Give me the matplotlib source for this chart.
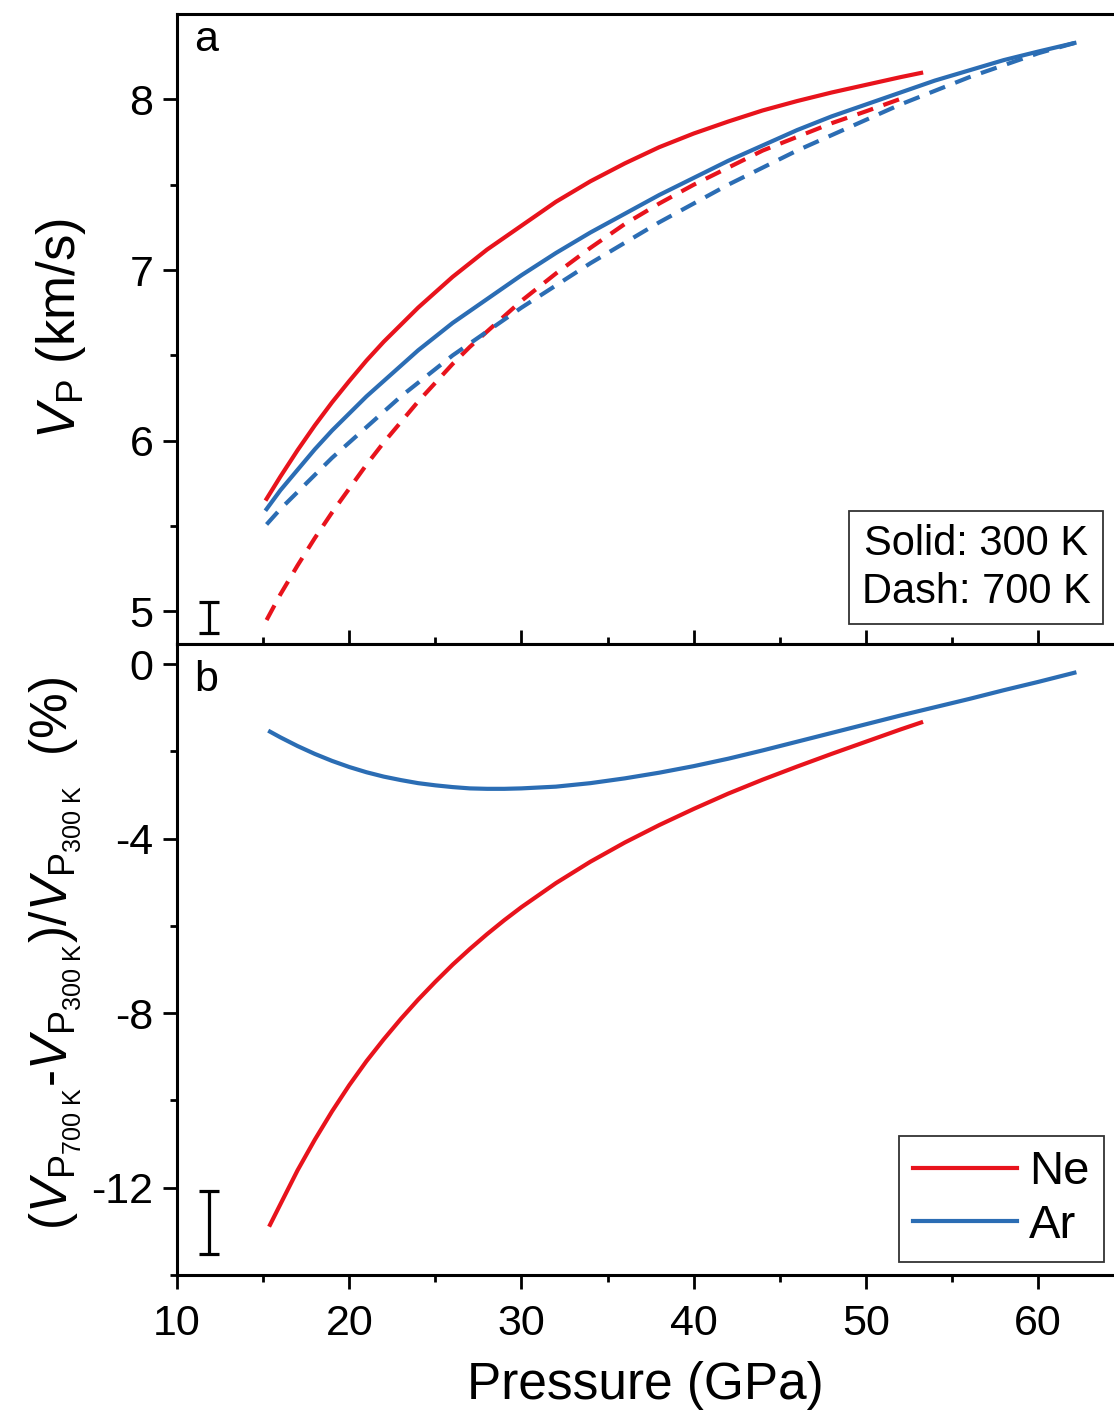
import numpy as np
import matplotlib
matplotlib.use("Agg")
import matplotlib.pyplot as plt

plt.rcParams["font.family"] = ["Liberation Sans", "DejaVu Sans"]
plt.rcParams["mathtext.fontset"] = "custom"
plt.rcParams["mathtext.rm"] = "Liberation Sans"
plt.rcParams["mathtext.it"] = "Liberation Sans:italic"
plt.rcParams["axes.unicode_minus"] = False

# ---- panel a: P-wave velocity (km/s) ----
p_ne_300 = [15.2, 16, 17, 18, 19, 20, 21, 22, 23, 24, 25, 26, 27, 28, 29, 30,
            32, 34, 36, 38, 40, 42, 44, 46, 48, 50, 52, 53.2]
vp_ne_300 = [5.66, 5.79, 5.945, 6.09, 6.225, 6.35, 6.47, 6.58, 6.68, 6.78, 6.87, 6.96,
             7.04, 7.12, 7.19, 7.26, 7.40, 7.52, 7.625, 7.72, 7.80, 7.87, 7.935, 7.99,
             8.04, 8.085, 8.13, 8.155]

p_ar_300 = [15.2, 16, 17, 18, 19, 20, 21, 22, 23, 24, 25, 26, 27, 28, 29, 30,
            32, 34, 36, 38, 40, 42, 44, 46, 48, 50, 52, 54, 56, 58, 60, 62.1]
vp_ar_300 = [5.60, 5.71, 5.83, 5.95, 6.06, 6.16, 6.26, 6.35, 6.44, 6.53, 6.61, 6.69,
             6.76, 6.83, 6.90, 6.97, 7.10, 7.22, 7.33, 7.44, 7.54, 7.64, 7.73, 7.82,
             7.90, 7.97, 8.04, 8.11, 8.17, 8.23, 8.28, 8.33]

p_ne_700 = [15.2, 16, 17, 18, 19, 20, 21, 22, 23, 24, 25, 26, 27, 28, 29, 30,
            32, 34, 36, 38, 40, 42, 44, 46, 48, 50, 52.2]
vp_ne_700 = [4.95, 5.10, 5.27, 5.43, 5.58, 5.72, 5.86, 5.99, 6.11, 6.23, 6.34, 6.45,
             6.55, 6.64, 6.73, 6.82, 6.98, 7.13, 7.27, 7.39, 7.50, 7.60, 7.70, 7.78,
             7.86, 7.93, 8.01]

p_ar_700 = [15.2, 16, 17, 18, 19, 20, 21, 22, 23, 24, 25, 26, 27, 28, 29, 30,
            32, 34, 36, 38, 40, 42, 44, 46, 48, 50, 52, 54, 56, 58, 60, 62.1]
vp_ar_700 = [5.51, 5.60, 5.70, 5.80, 5.90, 5.99, 6.08, 6.17, 6.26, 6.34, 6.42, 6.50,
             6.57, 6.64, 6.71, 6.78, 6.91, 7.04, 7.16, 7.28, 7.39, 7.50, 7.60, 7.70,
             7.79, 7.88, 7.97, 8.05, 8.13, 8.20, 8.27, 8.33]

# ---- panel b: relative change (%) ----
p_ne_diff = [15.4, 16, 17, 18, 19, 20, 21, 22, 23, 24, 25, 26, 27, 28, 29, 30,
             32, 34, 36, 38, 40, 42, 44, 46, 48, 50, 52, 53.2]
d_ne = [-12.85, -12.38, -11.6, -10.9, -10.25, -9.65, -9.1, -8.6, -8.13, -7.69, -7.28,
        -6.89, -6.53, -6.19, -5.87, -5.57, -5.02, -4.53, -4.09, -3.69, -3.32, -2.97,
        -2.65, -2.35, -2.06, -1.78, -1.5, -1.34]

p_ar_diff = [15.4, 16, 17, 18, 19, 20, 21, 22, 23, 24, 25, 26, 27, 28, 29, 30,
             32, 34, 36, 38, 40, 42, 44, 46, 48, 50, 52, 54, 56, 58, 60, 62.1]
d_ar = [-1.55, -1.68, -1.88, -2.06, -2.22, -2.36, -2.48, -2.58, -2.66, -2.73, -2.78,
        -2.82, -2.85, -2.86, -2.86, -2.85, -2.81, -2.73, -2.62, -2.49, -2.34, -2.17,
        -1.98, -1.78, -1.58, -1.38, -1.18, -0.99, -0.8, -0.6, -0.41, -0.2]

# representative error bars
err_x = 11.85
err_a_y, err_a = 4.965, 0.09
err_b_y, err_b = -12.79, 0.72

RED = "#E8131C"
BLUE = "#2B6DB4"
LW = 3.0
DASH = (4.0, 2.6)

fig = plt.figure(figsize=(11.14, 14.14), dpi=100)
ax1 = fig.add_axes([0.1589, 0.5446, 0.8411, 0.4455])
ax2 = fig.add_axes([0.1589, 0.0983, 0.8411, 0.4463])

# panel a
ax1.plot(p_ne_300, vp_ne_300, color=RED, lw=LW)
ax1.plot(p_ar_300, vp_ar_300, color=BLUE, lw=LW)
ax1.plot(p_ne_700, vp_ne_700, color=RED, lw=LW, dashes=DASH)
ax1.plot(p_ar_700, vp_ar_700, color=BLUE, lw=LW, dashes=DASH)
ax1.errorbar([err_x], [err_a_y], yerr=[err_a], fmt="none", ecolor="black",
             elinewidth=2.3, capsize=7.5, capthick=2.3)

ax1.set_xlim(10, 64.4)
ax1.set_ylim(4.81, 8.5)
ax1.set_yticks([5, 6, 7, 8])
ax1.set_yticks([5.5, 6.5, 7.5], minor=True)
ax1.set_xticks([10, 20, 30, 40, 50, 60])
ax1.set_xticks([15, 25, 35, 45, 55], minor=True)
ax1.tick_params(axis="x", which="both", direction="in", labelbottom=False)
ax1.tick_params(axis="y", which="both", direction="out")
ax1.set_ylabel(r"$V_\mathrm{P}$ (km/s)", fontsize=38)
ax1.yaxis.set_label_coords(-0.095, 0.5)
ax1.text(0.018, 0.99, "a", transform=ax1.transAxes, fontsize=31,
         ha="left", va="top")
ax1.text(0.853, 0.121, "Solid: 300 K\nDash: 700 K", transform=ax1.transAxes,
         fontsize=30, ha="center", va="center", linespacing=1.25,
         bbox=dict(boxstyle="square,pad=0.3", fc="white", ec="#333333", lw=1.3))

# panel b
ax2.plot(p_ne_diff, d_ne, color=RED, lw=LW, label="Ne")
ax2.plot(p_ar_diff, d_ar, color=BLUE, lw=LW, label="Ar")
ax2.errorbar([err_x], [err_b_y], yerr=[err_b], fmt="none", ecolor="black",
             elinewidth=2.3, capsize=7.5, capthick=2.3)

ax2.set_xlim(10, 64.4)
ax2.set_ylim(-14, 0.46)
ax2.set_yticks([0, -4, -8, -12])
ax2.set_yticks([-2, -6, -10, -14], minor=True)
ax2.set_xticks([10, 20, 30, 40, 50, 60])
ax2.set_xticks([15, 25, 35, 45, 55], minor=True)
ax2.tick_params(axis="both", which="both", direction="out")
ax2.set_xlabel("Pressure (GPa)", fontsize=37, labelpad=12)
ax2.set_ylabel(r"$(V_{\mathrm{P}_{700\ \mathrm{K}}}$-$V_{\mathrm{P}_{300\ \mathrm{K}}})/V_{\mathrm{P}_{300\ \mathrm{K}}}$  (%)",
               fontsize=37)
ax2.yaxis.set_label_coords(-0.1, 0.51)
ax2.text(0.018, 0.975, "b", transform=ax2.transAxes, fontsize=31,
         ha="left", va="top")
leg = ax2.legend(loc="lower right", bbox_to_anchor=(0.989, 0.0206),
                 borderaxespad=0, fontsize=34, handlelength=2.2,
                 handletextpad=0.25, labelspacing=0.2, borderpad=0.3,
                 fancybox=False, edgecolor="#333333", framealpha=1)
leg.get_frame().set_linewidth(1.3)

for ax in (ax1, ax2):
    ax.spines["right"].set_visible(False)
    for s in ("left", "bottom", "top"):
        ax.spines[s].set_linewidth(2.2)
    ax.tick_params(which="major", length=10, width=2, labelsize=31, pad=7)
    ax.tick_params(which="minor", length=5, width=2)
    ax.tick_params(axis="x", which="both", top=False)
    ax.tick_params(axis="y", which="both", right=False)
ax2.tick_params(axis="x", which="major", pad=11)

fig.savefig("out.png", dpi=100)
